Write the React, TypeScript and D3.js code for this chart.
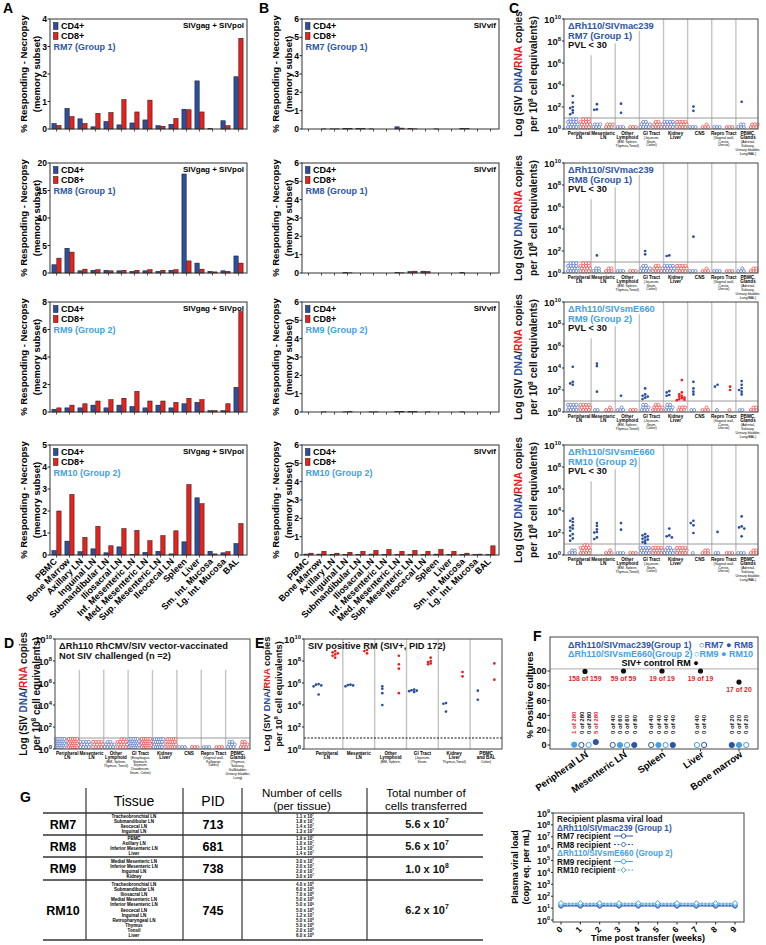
import React from 'react';
import * as d3 from 'd3';

const FONT = "'Liberation Sans', Arial, Helvetica, sans-serif";
const BAR_BLUE = '#2c4f9e';
const BAR_RED = '#e8211d';
const DNA_BLUE = '#2b4ea0';
const RNA_RED = '#e8211d';
const OPEN_BLUE = '#4a6cc0';
const OPEN_RED = '#ee3b3b';
const G1 = '#2d55a6';
const G2 = '#45a0e2';

// ---------------- Panel A / B data ----------------
const tissues = ['PBMC', 'Bone Marrow', 'Axillary LN', 'Inguinal LN', 'Submandibular LN', 'Iliosacral LN', 'Inf. Mesenteric LN', 'Med. Mesenteric LN', 'Sup. Mesenteric LN', 'Ileocecal LN', 'Spleen', 'Liver', 'Sm. Int. Mucosa', 'Lg. Int. Mucosa', 'BAL'];
const aRM7CD4 = [0.2, 0.75, 0.37, 0.08, 0.27, 0.15, 0.22, 0.33, 0.12, 0.17, 0.72, 1.75, 0.02, 0.3, 1.9];
const aRM7CD8 = [0.13, 0.45, 0.2, 0.57, 0.6, 1.07, 0.62, 1.05, 0.1, 0.38, 0.7, 0.62, 0, 0.12, 3.3];
const aRM8CD4 = [1.5, 4.5, 0.4, 0.5, 0.5, 0.4, 0.3, 0.4, 0.3, 0.5, 18, 1.8, 0.3, 0.4, 3.1];
const aRM8CD8 = [2.7, 3.8, 0.7, 0.6, 0.4, 0.5, 0.5, 0.6, 0.5, 0.6, 2.2, 0.7, 0.2, 0.3, 1.8];
const aRM9CD4 = [0.2, 0.3, 0.3, 0.5, 0.3, 0.5, 0.4, 0.3, 0.5, 0.3, 0.6, 0.7, 0.1, 0.1, 1.8];
const aRM9CD8 = [0.3, 0.5, 0.6, 0.8, 0.9, 1.0, 1.5, 0.8, 0.8, 0.7, 1.0, 0.9, 0.1, 0.6, 7.3];
const aRM10CD4 = [0.2, 0.63, 0.15, 0.28, 0.1, 0.37, 0.02, 0.12, 0.17, 0.05, 0.6, 2.6, 0.17, 0.1, 0.52];
const aRM10CD8 = [2.0, 2.75, 0.8, 1.3, 0.42, 1.2, 1.12, 0.65, 0.88, 1.1, 3.2, 2.33, 0.05, 0.15, 1.43];
const bRM7CD4 = [0, 0, 0.01, 0.04, 0.04, 0.01, 0, 0.12, 0.03, 0, 0.01, 0, 0.04, 0, 0];
const bRM7CD8 = [0, 0.01, 0.01, 0.04, 0.03, 0, 0, 0.05, 0.01, 0, 0, 0, 0.02, 0, 0];
const bRM8CD4 = [0, 0, 0, 0.02, 0, 0, 0, 0.02, 0.08, 0.1, 0, 0, 0.02, 0, 0];
const bRM8CD8 = [0, 0, 0, 0.01, 0, 0, 0, 0.01, 0.1, 0.08, 0, 0, 0, 0, 0];
const bRM9CD4 = [0, 0, 0, 0.01, 0, 0.01, 0, 0.03, 0.02, 0, 0, 0, 0.01, 0, 0];
const bRM9CD8 = [0, 0.01, 0, 0.02, 0, 0.01, 0, 0.04, 0.02, 0.01, 0, 0, 0, 0, 0];
const bRM10CD4 = [0.05, 0.05, 0.03, 0.03, 0.02, 0.05, 0.03, 0.02, 0.03, 0.02, 0.05, 0.03, 0.02, 0.02, 0.02];
const bRM10CD8 = [0.1, 0.2, 0.1, 0.15, 0.2, 0.25, 0.3, 0.2, 0.25, 0.2, 0.3, 0.2, 0.1, 0.05, 0.5];

// ---------------- Panel C / D data ----------------
const cCats = ['Peripheral LN', 'Mesenteric LN', 'Other Lymphoid', 'GI Tract', 'Kidney Liver', 'CNS', 'Repro Tract', 'PBMC Glands'];
const cMain = [['Peripheral', 'LN'], ['Mesenteric', 'LN'], ['Other', 'Lymphoid'], ['GI Tract'], ['Kidney', 'Liver'], ['CNS'], ['Repro Tract'], ['PBMC,', 'Glands']];
const cSub = [[], [], ['(BM, Spleen,', 'Thymus,Tonsil)'], ['(Jejunum,', 'Ileum,', 'Colon)'], [], [], ['(Vaginal wall,', 'Cervix,', 'Uterus)'], ['(Adrenal,', 'Salivary,', 'Urinary bladder,', 'Lung/BAL)']];
const dSub = [[], [], ['(BM, Spleen,', 'Thymus, Tonsil)'], ['(Esophagus,', 'Stomach,', 'Jejunum,', 'Duodenum,', 'Ileum, Colon)'], [], [], ['(Vaginal wall,', 'Fallopian', 'Tubes)'], ['(Thymus,', 'Salivary,', 'Gallbladder,', 'Urinary bladder,', 'Lung)']];

const cRM7DnaPos = [[1000, 250, 100, 80, 50, 30, 22], [180, 60, 55], [200, 30], [], [], [110, 45], [], [300]];
const cRM7RnaPos = [[], [], [], [], [], [], [], []];
const cRM7DnaNeg = [15, 6, 3, 10, 12, 3, 3, 5];
const cRM7RnaNeg = [15, 6, 3, 10, 12, 4, 3, 6];

const cRM8DnaPos = [[], [40], [], [100, 50], [40, 35], [2000], [], []];
const cRM8RnaPos = [[], [], [], [], [], [], [], []];
const cRM8DnaNeg = [15, 5, 3, 10, 12, 3, 3, 4];
const cRM8RnaNeg = [15, 5, 3, 10, 12, 4, 3, 5];

const cRM9DnaPos = [[13000, 550, 400, 300], [25000, 15000, 70], [30], [140, 40, 30, 25, 20, 15], [80, 60, 35, 30], [550, 140, 70, 40], [300, 200], [650, 300, 150, 100, 70, 40]];
const cRM9RnaPos = [[], [], [], [], [800, 60, 40, 30, 25, 20, 18, 15, 13, 12], [], [200, 100], []];
const cRM9DnaNeg = [12, 2, 4, 8, 8, 2, 1, 2];
const cRM9RnaNeg = [12, 4, 3, 10, 6, 4, 1, 5];

const cRM10DnaPos = [[2000, 1300, 1000, 500, 320, 250, 160, 80, 56, 32, 20], [800, 450, 220, 125, 110, 40, 28], [800, 200], [80, 60, 50, 40, 30, 25, 20, 15, 12], [250, 60, 50, 40], [1300, 800, 500, 100], [125], [3200, 400, 320, 250, 50]];
const cRM10RnaPos = [[], [], [], [], [], [], [], []];
const cRM10DnaNeg = [5, 0, 3, 12, 10, 1, 2, 3];
const cRM10RnaNeg = [14, 4, 3, 12, 12, 5, 3, 5];

const dDnaNeg = [25, 12, 10, 25, 20, 3, 3, 8];
const dRnaNeg = [25, 12, 14, 25, 20, 3, 3, 8];
const emptyPos = [[], [], [], [], [], [], [], []];

// ---------------- Panel E data ----------------
const eCats = ['Peripheral LN', 'Mesenteric LN', 'Other Lymphoid', 'GI Tract', 'Kidney Liver', 'PBMC and BAL'];
const eMain = [['Peripheral', 'LN'], ['Mesenteric', 'LN'], ['Other', 'Lymphoid'], ['GI Tract'], ['Kidney', 'Liver'], ['PBMC', 'and BAL']];
const eSub = [[], [], ['(BM, Spleen,'], ['(Jejunum,', 'Ileum,'], ['Thymus,Tonsil)'], ['Colon)']];
const eDnaPos = [[800000, 700000, 600000, 500000, 90000], [700000, 600000, 500000, 650000], [300000, 120000, 10000, 500000], [250000, 200000, 150000, 220000, 180000], [15000, 13000, 2500], [200000, 30000]];
const eRnaPos = [[800000000, 500000000, 300000000, 200000000, 600000000, 400000000], [1000000000, 800000000, 500000000], [300000000, 50000000, 20000000, 120000], [200000000, 100000000, 80000000, 50000000, 60000000], [10000000, 4000000], [60000000, 2000000]];

// ---------------- Panel F data ----------------
const fCats = ['Peripheral LN', 'Mesenteric LN', 'Spleen', 'Liver', 'Bone marrow'];
const fControlPct = [99.4, 100, 100, 100, 85];
const fControlText = ['158 of 159', '59 of 59', '19 of 19', '19 of 19', '17 of 20'];
const fSubjects = [['RM10', 'RM7', 'RM9', 'RM8'], ['RM7', 'RM10', 'RM9', 'RM8'], ['RM7', 'RM10', 'RM9', 'RM8'], ['RM9', 'RM7'], ['RM8', 'RM10', 'RM9']];
const fPct = [[0.4, 0, 0, 4], [0, 0, 0, 0], [0, 0, 0, 0], [0, 0], [0, 0, 0]];
const fPos = [[1, 0, 0, 5], [0, 0, 0, 0], [0, 0, 0, 0], [0, 0], [0, 0, 0]];
const fTot = [[280, 280, 280, 280], [40, 60, 60, 80], [40, 40, 40, 40], [40, 40], [20, 20, 20]];

const weeks = [0, 1, 2, 3, 4, 5, 6, 7, 8, 9];
const pvlRM7 = [15, 15, 15, 15, 15, 15, 15, 15, 15, 15];
const pvlRM8 = [17, 17, 17, 17, 17, 17, 17, 17, 17, 17];
const pvlRM9 = [22, 22, 22, 22, 22, 22, 22, 22, 22, 22];
const pvlRM10 = [26, 26, 26, 26, 26, 26, 26, 26, 26, 26];

// ---------------- Panel G data ----------------
const gAnimals = ['RM7', 'RM8', 'RM9', 'RM10'];
const gPID = ['713', '681', '738', '745'];
const gTissues = [
  ['Tracheobronchial LN', 'Submandibular LN', 'Ileocecal LN', 'Inguinal LN'],
  ['PBMC', 'Axillary LN', 'Inferior Mesenteric LN', 'Liver'],
  ['Medial Mesenteric LN', 'Inferior Mesenteric LN', 'Inguinal LN', 'Kidney'],
  ['Tracheobronchial LN', 'Submandibular LN', 'Iliosacral LN', 'Medial Mesenteric LN', 'Inferior Mesenteric LN', 'Ileocecal LN', 'Inguinal LN', 'Retropharyngeal LN', 'Thymus', 'Tonsil', 'Liver'],
];
const gCounts = [
  [['1.1', 7], ['1.8', 7], ['1.4', 7], ['1.3', 7]],
  [['1.9', 7], ['1.0', 7], ['1.3', 7], ['1.4', 7]],
  [['3.0', 7], ['2.0', 7], ['2.0', 7], ['3.0', 7]],
  [['4.0', 6], ['6.0', 6], ['7.0', 6], ['5.0', 6], ['5.0', 6], ['5.0', 6], ['1.2', 7], ['5.0', 6], ['5.0', 6], ['2.0', 6], ['6.0', 6]],
];
const gTotal = [['5.6', 7], ['5.6', 7], ['1.0', 8], ['6.2', 7]];

// ---------------- layout ----------------
const rowTops = [19, 163, 302, 445];
const PH = 110;

function T(props: any) {
  const { children, ...rest } = props;
  return <text fontFamily={FONT} fontWeight="bold" {...rest}>{children}</text>;
}

function Pow({ x, y, base, exp, size, anchor = 'end', fill = '#111', weight = 'bold' }: any) {
  return (
    <text x={x} y={y} fontSize={size} textAnchor={anchor} fontFamily={FONT} fontWeight={weight} fill={fill}>
      {base}<tspan dy={-size * 0.42} fontSize={size * 0.62}>{exp}</tspan>
    </text>
  );
}

function BarPanel({ x0, x1, top, yMax, yTicks, cd4, cd8, antigen, subj, subjColor, showX }: any) {
  const bottom = top + PH;
  const x = d3.scaleBand<string>().domain(tissues).range([x0, x1 - 2]);
  const y = d3.scaleLinear().domain([0, yMax]).range([bottom, top]);
  const bw = x.bandwidth() * 0.33;
  return (
    <g>
      {tissues.map((t, i) => {
        const c = (x(t) as number) + x.bandwidth() / 2;
        return (
          <g key={t}>
            {cd4[i] > 0 && <rect x={c - bw - 0.3} y={y(cd4[i])} width={bw} height={bottom - y(cd4[i])} fill={BAR_BLUE} stroke="#111" strokeWidth={0.5} />}
            {cd8[i] > 0 && <rect x={c + 0.3} y={y(cd8[i])} width={bw} height={bottom - y(cd8[i])} fill={BAR_RED} stroke="#111" strokeWidth={0.5} />}
            <line x1={c} x2={c} y1={bottom} y2={bottom + 2.5} stroke="#222" strokeWidth={0.8} />
            {showX && (
              <T x={c + 1} y={bottom + 7} fontSize={9} textAnchor="end" transform={`rotate(-45 ${c + 1} ${bottom + 7})`}>{t}</T>
            )}
          </g>
        );
      })}
      <rect x={x0} y={top} width={x1 - x0} height={PH} fill="none" stroke="#333" strokeWidth={1} />
      {yTicks.map((v: number) => (
        <g key={v}>
          <line x1={x0 - 2.5} x2={x0} y1={y(v)} y2={y(v)} stroke="#222" />
          <T x={x0 - 3} y={y(v) + 3} fontSize={8.5} textAnchor="end">{v}</T>
        </g>
      ))}
      <rect x={x0 + 3.5} y={top + 3.5} width={4.5} height={7} fill={BAR_BLUE} stroke="#111" strokeWidth={0.5} />
      <rect x={x0 + 3.5} y={top + 13.5} width={4.5} height={7} fill={BAR_RED} stroke="#111" strokeWidth={0.5} />
      <T x={x0 + 11} y={top + 10} fontSize={9}>CD4+</T>
      <T x={x0 + 11} y={top + 20} fontSize={9}>CD8+</T>
      <T x={x0 + 3.5} y={top + 31} fontSize={9} fill={subjColor}>{subj}</T>
      <T x={x1 - 3} y={top + 9} fontSize={8} textAnchor="end">{antigen}</T>
      <g transform={`translate(${x0 - 23},${top + PH / 2}) rotate(-90)`}>
        <T x={0} y={0} fontSize={9.5} textAnchor="middle">% Responding - Necropsy</T>
        <T x={0} y={13} fontSize={9.5} textAnchor="middle">(memory subset)</T>
      </g>
    </g>
  );
}

function dodge(vals: number[]) {
  const order = vals.map((v, i) => ({ v, i })).sort((a, b) => b.v - a.v);
  const out = new Array(vals.length).fill(0);
  const pattern = [0, -2.6, 2.6, -5, 5];
  let anchor = -99;
  let k = 0;
  order.forEach(({ v, i }) => {
    const lv = Math.log10(v);
    if (Math.abs(lv - anchor) < 0.22) k++;
    else { k = 0; anchor = lv; }
    out[i] = pattern[k % 5];
  });
  return out;
}

function negLayout(n: number, cx: number, yb: number) {
  const pts: [number, number][] = [];
  if (n === 0) return pts;
  const cols = n > 16 ? 5 : n > 9 ? 4 : Math.min(n, 3);
  const rows = Math.ceil(n / cols);
  const dy = Math.min(2.6, 8 / Math.max(rows - 1, 1));
  const dx = cols >= 5 ? 2.1 : 2.8;
  for (let i = 0; i < n; i++) {
    const r = Math.floor(i / cols);
    const c = i % cols;
    const inRow = Math.min(cols, n - r * cols);
    pts.push([cx + (c - (inRow - 1) / 2) * dx + (r % 2 ? 0.6 : -0.6), yb - 2 - r * dy]);
  }
  return pts;
}

function CatLabels({ cx, bottom, main, sub }: any) {
  const lines: any[] = [];
  let yy = bottom + 5.5;
  main.forEach((m: string, i: number) => {
    lines.push(<T key={'m' + i} x={cx} y={yy} fontSize={4.6} textAnchor="middle">{m}</T>);
    yy += 4.6;
  });
  sub.forEach((s: string, i: number) => {
    lines.push(<T key={'s' + i} x={cx} y={yy - 0.3} fontSize={3.5} textAnchor="middle" fontWeight="normal">{s}</T>);
    yy += 3.8;
  });
  return <g>{lines}</g>;
}

function LogPanel({ x0, x1, bx0, bx1, top, cats, main, sub, dnaPos, rnaPos, dnaNeg, rnaNeg, sepTop, dashed, title, yLabelX, yLabelGap, yLabelSize }: any) {
  const bottom = top + PH;
  const y = d3.scaleLog().domain([1, 1e10]).range([bottom, top]);
  const x = d3.scaleBand<string>().domain(cats).range([bx0, bx1]);
  const bw = x.bandwidth();
  const off = bw * 0.26;
  return (
    <g>
      {cats.slice(1).map((c: string, i: number) => (
        <line key={c} x1={x(c)} x2={x(c)} y1={bottom} y2={y(Math.pow(10, sepTop[i]))} stroke="#c4c4c4" strokeWidth={1.4} />
      ))}
      <line x1={x0} x2={x1} y1={y(10)} y2={y(10)} stroke={dashed ? '#111' : '#9a9a9a'} strokeWidth={dashed ? 1.1 : 1} strokeDasharray={dashed ? '2,1.5' : undefined} />
      {cats.map((c: string, i: number) => {
        const cx = (x(c) as number) + bw / 2;
        const dd = dodge(dnaPos[i]);
        const rd = dodge(rnaPos[i]);
        return (
          <g key={c}>
            {negLayout(dnaNeg ? dnaNeg[i] : 0, cx - off, bottom).map(([px, py], j) => (
              <circle key={'dn' + j} cx={px} cy={py} r={1.5} fill="#fff" stroke={OPEN_BLUE} strokeWidth={0.7} />
            ))}
            {negLayout(rnaNeg ? rnaNeg[i] : 0, cx + off, bottom).map(([px, py], j) => (
              <circle key={'rn' + j} cx={px} cy={py} r={1.5} fill="#fff" stroke={OPEN_RED} strokeWidth={0.7} />
            ))}
            {dnaPos[i].map((v: number, j: number) => (
              <circle key={'dp' + j} cx={cx - off + dd[j]} cy={y(v)} r={1.35} fill={DNA_BLUE} />
            ))}
            {rnaPos[i].map((v: number, j: number) => (
              <circle key={'rp' + j} cx={cx + off + rd[j]} cy={y(v)} r={1.35} fill={RNA_RED} />
            ))}
            <CatLabels cx={cx} bottom={bottom} main={main[i]} sub={sub[i]} />
          </g>
        );
      })}
      <rect x={x0} y={top} width={x1 - x0} height={PH} fill="none" stroke="#444" strokeWidth={1} />
      {[0, 2, 4, 6, 8, 10].map((e) => (
        <g key={e}>
          <line x1={x0 - 2} x2={x0} y1={y(Math.pow(10, e))} y2={y(Math.pow(10, e))} stroke="#222" />
          <Pow x={x0 - 3} y={y(Math.pow(10, e)) + 3.5} base="10" exp={e} size={9.5} />
        </g>
      ))}
      {title.map((t: any, i: number) => (
        <T key={i} x={x0 + 4} y={top + 10 + i * 9.5} fontSize={9.3} fill={t.color}>{t.text}</T>
      ))}
      <g transform={`translate(${yLabelX},${top + PH / 2}) rotate(-90)`}>
        <text x={0} y={0} fontSize={yLabelSize} textAnchor="middle" fontFamily={FONT} fontWeight="bold" fill="#111">
          Log (SIV <tspan fill={DNA_BLUE}>DNA</tspan>/<tspan fill={RNA_RED}>RNA</tspan> copies
        </text>
        <text x={0} y={yLabelGap} fontSize={yLabelSize} textAnchor="middle" fontFamily={FONT} fontWeight="bold" fill="#111">
          per 10<tspan dy={-4} fontSize={yLabelSize * 0.65}>8</tspan><tspan dy={4}> cell equivalents)</tspan>
        </text>
      </g>
    </g>
  );
}

function PanelF() {
  const x0 = 550, x1 = 758, top = 637, bottom = 749;
  const y = d3.scaleLinear().domain([0, 100]).range([745, 671]);
  const x = d3.scalePoint<string>().domain(fCats).range([585, 739]);
  const subjStyle: any = {
    RM7: { fill: '#fff', stroke: G1 },
    RM8: { fill: G1, stroke: G1 },
    RM9: { fill: '#fff', stroke: G2 },
    RM10: { fill: G2, stroke: G2 },
  };
  return (
    <g>
      <line x1={x0} x2={x1} y1={y(103)} y2={y(103)} stroke="#bdbdbd" strokeWidth={1.2} />
      {fCats.map((c, i) => {
        const cx = x(c) as number;
        const n = fSubjects[i].length;
        return (
          <g key={c}>
            <circle cx={cx} cy={y(fControlPct[i])} r={2.6} fill="#111" />
            <T x={cx} y={y(fControlPct[i]) + 10} fontSize={6.8} fill={RNA_RED} textAnchor="middle">{fControlText[i]}</T>
            {fSubjects[i].map((s, j) => {
              const sx = cx + (j - (n - 1) / 2) * 7.2;
              const st = subjStyle[s];
              return (
                <g key={s}>
                  <circle cx={sx} cy={y(fPct[i][j])} r={2.6} fill={st.fill} stroke={st.stroke} strokeWidth={1} />
                  <T x={sx + 2.2} y={734} fontSize={6} fill={fPos[i][j] > 0 ? RNA_RED : '#111'} transform={`rotate(-90 ${sx + 2.2} 734)`}>{`${fPos[i][j]} of ${fTot[i][j]}`}</T>
                </g>
              );
            })}
            <line x1={cx} x2={cx} y1={bottom} y2={bottom + 2.5} stroke="#222" />
            <T x={cx + 4} y={bottom + 7} fontSize={9.5} textAnchor="end" transform={`rotate(-35 ${cx + 4} ${bottom + 7})`}>{c}</T>
          </g>
        );
      })}
      <rect x={x0} y={top} width={x1 - x0} height={bottom - top} fill="none" stroke="#444" strokeWidth={1} />
      {[0, 20, 40, 60, 80, 100].map((v) => (
        <g key={v}>
          <line x1={x0 - 2.5} x2={x0} y1={y(v)} y2={y(v)} stroke="#222" />
          <T x={x0 - 3.5} y={y(v) + 3.2} fontSize={9} textAnchor="end">{v}</T>
        </g>
      ))}
      <T x={x0 + 18} y={648} fontSize={9} fill={G1}>ΔRh110/SIVmac239(Group 1)</T>
      <T x={x1 - 5} y={648} fontSize={9} fill={G1} textAnchor="end">○RM7 ● RM8</T>
      <T x={x0 + 18} y={657} fontSize={9} fill={G2}>ΔRh110/SIVsmE660(Group 2)</T>
      <T x={x1 - 5} y={657} fontSize={9} fill={G2} textAnchor="end">○RM9 ● RM10</T>
      <T x={660} y={666} fontSize={9} textAnchor="middle">SIV+ control RM ●</T>
      <g transform={`translate(${x0 - 17},695) rotate(-90)`}>
        <T x={0} y={0} fontSize={9.5} textAnchor="middle">% Positive cultures</T>
      </g>
    </g>
  );
}

function PanelPVL() {
  const x0 = 553, x1 = 744, top = 813, bottom = 922;
  const x = d3.scaleLinear().domain([0, 9]).range([561, 735]);
  const y = d3.scaleLog().domain([1, 1e9]).range([920, 813]);
  const series = [
    { v: pvlRM7, c: G1, dash: undefined, shape: 'circle' },
    { v: pvlRM8, c: G1, dash: '2,1.5', shape: 'diamond' },
    { v: pvlRM9, c: G2, dash: undefined, shape: 'circle' },
    { v: pvlRM10, c: G2, dash: '2,1.5', shape: 'diamond' },
  ];
  const line = (vals: number[]) => d3.line<number>().x((_, i) => x(weeks[i])).y((d) => y(d))(vals) as string;
  const marker = (cx: number, cy: number, s: any, k: string) =>
    s.shape === 'circle' ? (
      <circle key={k} cx={cx} cy={cy} r={2.2} fill="#fff" stroke={s.c} strokeWidth={0.9} />
    ) : (
      <path key={k} d={`M${cx},${cy - 2.6}L${cx + 2.4},${cy}L${cx},${cy + 2.6}L${cx - 2.4},${cy}Z`} fill="#fff" stroke={s.c} strokeWidth={0.9} />
    );
  const legendRows = [
    { t: 'Recipient plasma viral load', c: '#111' },
    { t: 'ΔRh110/SIVmac239 (Group 1)', c: G1 },
    { t: 'RM7 recipient', c: '#111', s: 0 },
    { t: 'RM8 recipient', c: '#111', s: 1 },
    { t: 'ΔRh110/SIVsmE660 (Group 2)', c: G2 },
    { t: 'RM9 recipient', c: '#111', s: 2 },
    { t: 'RM10 recipient', c: '#111', s: 3 },
  ];
  return (
    <g>
      <rect x={x0} y={top} width={x1 - x0} height={bottom - top} fill="none" stroke="#444" strokeWidth={1} />
      {series.map((s, i) => (
        <g key={i}>
          <path d={line(s.v)} fill="none" stroke={s.c} strokeWidth={1} strokeDasharray={s.dash} />
          {s.v.map((v, j) => marker(x(weeks[j]), y(v), s, 'm' + j))}
        </g>
      ))}
      {legendRows.map((r, i) => (
        <g key={i}>
          <T x={557} y={822 + i * 8.5} fontSize={8.2} fill={r.c}>{r.t}</T>
          {r.s !== undefined && (
            <g>
              <line x1={614} x2={633} y1={819 + i * 8.5} y2={819 + i * 8.5} stroke={series[r.s].c} strokeWidth={1} strokeDasharray={series[r.s].dash} />
              {marker(623.5, 819 + i * 8.5, series[r.s], 'lg' + i)}
            </g>
          )}
        </g>
      ))}
      {d3.range(0, 10).map((e) => (
        <g key={e}>
          <line x1={x0 - 2} x2={x0} y1={y(Math.pow(10, e))} y2={y(Math.pow(10, e))} stroke="#222" />
          <Pow x={x0 - 3} y={y(Math.pow(10, e)) + 3.5} base="10" exp={e} size={9} />
        </g>
      ))}
      {weeks.map((w) => (
        <g key={w}>
          <line x1={x(w)} x2={x(w)} y1={bottom} y2={bottom + 2.5} stroke="#222" />
          <T x={x(w) + 2} y={bottom + 8} fontSize={8.5} textAnchor="end" transform={`rotate(-45 ${x(w) + 2} ${bottom + 8})`}>{w}</T>
        </g>
      ))}
      <T x={648} y={941} fontSize={9} textAnchor="middle">Time post transfer (weeks)</T>
      <g transform={`translate(518,867) rotate(-90)`}>
        <T x={0} y={0} fontSize={9} textAnchor="middle">Plasma viral load</T>
        <T x={0} y={11} fontSize={9} textAnchor="middle">(copy eq. per mL)</T>
      </g>
    </g>
  );
}

function PanelG() {
  const rowY = [813, 835, 857, 880, 940];
  const vx = [86, 183, 242, 367];
  const lx = 43, rx = 483;
  return (
    <g>
      <T x={20} y={802} fontSize={14}>G</T>
      {vx.map((v) => <line key={v} x1={v} x2={v} y1={788} y2={940} stroke="#333" strokeWidth={1.2} />)}
      {rowY.map((r, i) => <line key={r} x1={lx} x2={rx} y1={r} y2={r} stroke="#333" strokeWidth={i === 0 ? 1.6 : 1.3} />)}
      <text x={134} y={806} fontSize={14} textAnchor="middle" fontFamily={FONT}>Tissue</text>
      <text x={213} y={806} fontSize={14} textAnchor="middle" fontFamily={FONT}>PID</text>
      <text x={302} y={797} fontSize={11.5} textAnchor="middle" fontFamily={FONT}>Number of cells</text>
      <text x={302} y={810} fontSize={11.5} textAnchor="middle" fontFamily={FONT}>(per tissue)</text>
      <text x={426} y={797} fontSize={11.5} textAnchor="middle" fontFamily={FONT}>Total number of</text>
      <text x={426} y={810} fontSize={11.5} textAnchor="middle" fontFamily={FONT}>cells transferred</text>
      {gAnimals.map((a, i) => {
        const y0 = rowY[i], y1 = rowY[i + 1];
        const mid = (y0 + y1) / 2;
        const n = gTissues[i].length;
        const sp = Math.min(5.1, (y1 - y0 - 3) / n);
        const start = mid - (n - 1) * sp / 2 + 1.5;
        return (
          <g key={a}>
            <T x={63} y={mid + 4.5} fontSize={12.5} textAnchor="middle">{a}</T>
            <T x={213} y={mid + 4.5} fontSize={12.5} textAnchor="middle">{gPID[i]}</T>
            {gTissues[i].map((t, j) => (
              <T key={j} x={134} y={start + j * sp} fontSize={4.5} textAnchor="middle">{t}</T>
            ))}
            {gCounts[i].map((c, j) => (
              <Pow key={j} x={305} y={start + j * sp} base={`${c[0]} x 10`} exp={c[1]} size={4.5} anchor="middle" />
            ))}
            <Pow x={427} y={mid + 4} base={`${gTotal[i][0]} x 10`} exp={gTotal[i][1]} size={11} anchor="middle" />
          </g>
        );
      })}
    </g>
  );
}

export default function App() {
  const aCfg = [
    { cd4: aRM7CD4, cd8: aRM7CD8, yMax: 4, ticks: [0, 1, 2, 3, 4], subj: 'RM7 (Group 1)', col: G1 },
    { cd4: aRM8CD4, cd8: aRM8CD8, yMax: 20, ticks: [0, 5, 10, 15, 20], subj: 'RM8 (Group 1)', col: G1 },
    { cd4: aRM9CD4, cd8: aRM9CD8, yMax: 8, ticks: [0, 2, 4, 6, 8], subj: 'RM9 (Group 2)', col: G2 },
    { cd4: aRM10CD4, cd8: aRM10CD8, yMax: 5, ticks: [0, 1, 2, 3, 4, 5], subj: 'RM10 (Group 2)', col: G2 },
  ];
  const bCfg = [
    { cd4: bRM7CD4, cd8: bRM7CD8, subj: 'RM7 (Group 1)', col: G1 },
    { cd4: bRM8CD4, cd8: bRM8CD8, subj: 'RM8 (Group 1)', col: G1 },
    { cd4: bRM9CD4, cd8: bRM9CD8, subj: 'RM9 (Group 2)', col: G2 },
    { cd4: bRM10CD4, cd8: bRM10CD8, subj: 'RM10 (Group 2)', col: G2 },
  ];
  const cCfg = [
    { dp: cRM7DnaPos, rp: cRM7RnaPos, dn: cRM7DnaNeg, rn: cRM7RnaNeg, v: 'ΔRh110/SIVmac239', s: 'RM7 (Group 1)', col: G1 },
    { dp: cRM8DnaPos, rp: cRM8RnaPos, dn: cRM8DnaNeg, rn: cRM8RnaNeg, v: 'ΔRh110/SIVmac239', s: 'RM8 (Group 1)', col: G1 },
    { dp: cRM9DnaPos, rp: cRM9RnaPos, dn: cRM9DnaNeg, rn: cRM9RnaNeg, v: 'ΔRh110/SIVsmE660', s: 'RM9 (Group 2)', col: G2 },
    { dp: cRM10DnaPos, rp: cRM10RnaPos, dn: cRM10DnaNeg, rn: cRM10RnaNeg, v: 'ΔRh110/SIVsmE660', s: 'RM10 (Group 2)', col: G2 },
  ];
  return (
    <svg width={766} height={945} style={{ position: 'absolute', left: 0, top: 0, background: '#fff' }}>
      <rect width={766} height={945} fill="#fff" />
      <T x={3} y={13} fontSize={14}>A</T>
      <T x={259} y={13} fontSize={14}>B</T>
      <T x={509} y={13} fontSize={14}>C</T>
      <T x={4} y={648} fontSize={14}>D</T>
      <T x={255} y={648} fontSize={14}>E</T>
      <T x={533} y={641} fontSize={14}>F</T>
      {aCfg.map((c, i) => (
        <BarPanel key={'a' + i} x0={50} x1={247} top={rowTops[i]} yMax={c.yMax} yTicks={c.ticks} cd4={c.cd4} cd8={c.cd8} antigen="SIVgag + SIVpol" subj={c.subj} subjColor={c.col} showX={i === 3} />
      ))}
      {bCfg.map((c, i) => (
        <BarPanel key={'b' + i} x0={302} x1={499} top={rowTops[i]} yMax={6} yTicks={[0, 1, 2, 3, 4, 5, 6]} cd4={c.cd4} cd8={c.cd8} antigen="SIVvif" subj={c.subj} subjColor={c.col} showX={i === 3} />
      ))}
      {cCfg.map((c, i) => (
        <LogPanel key={'c' + i} x0={564} x1={758} bx0={567} bx1={760} top={rowTops[i]} cats={cCats} main={cMain} sub={cSub}
          dnaPos={c.dp} rnaPos={c.rp} dnaNeg={c.dn} rnaNeg={c.rn} sepTop={[6.7, 7.8, 8.9, 10, 10, 10, 10]}
          title={[{ text: c.v, color: c.col }, { text: c.s, color: c.col }, { text: 'PVL < 30', color: '#111' }]}
          yLabelX={522} yLabelGap={14.5} yLabelSize={10.2} />
      ))}
      <LogPanel x0={55} x1={250} bx0={55} bx1={250} top={639} cats={cCats} main={cMain} sub={dSub}
        dnaPos={emptyPos} rnaPos={emptyPos} dnaNeg={dDnaNeg} rnaNeg={dRnaNeg} sepTop={[7.2, 7.2, 7.2, 7.2, 7.2, 7.2, 7.2]}
        title={[{ text: 'ΔRh110 RhCMV/SIV vector-vaccinated', color: '#111' }, { text: 'Not SIV challenged (n =2)', color: '#111' }]}
        yLabelX={27} yLabelGap={13} yLabelSize={10} />
      <LogPanel x0={304} x1={502} bx0={311} bx1={502} top={639} cats={eCats} main={eMain} sub={eSub}
        dnaPos={eDnaPos} rnaPos={eRnaPos} dnaNeg={null} rnaNeg={null} sepTop={[10, 10, 10, 10, 10]} dashed
        title={[{ text: 'SIV positive RM (SIV+, PID 172)', color: '#111' }]}
        yLabelX={270} yLabelGap={11.5} yLabelSize={9.3} />
      <PanelF />
      <PanelPVL />
      <PanelG />
    </svg>
  );
}
